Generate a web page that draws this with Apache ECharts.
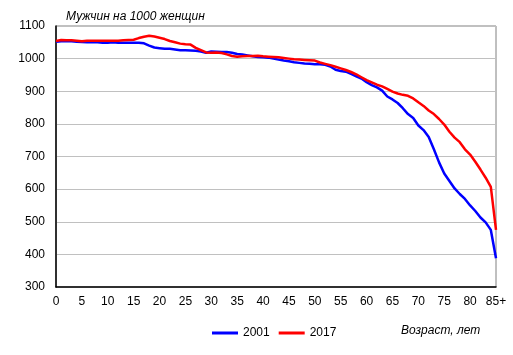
<!DOCTYPE html>
<html>
<head>
<meta charset="utf-8">
<script src="https://cdn.jsdelivr.net/npm/echarts@6/dist/echarts.min.js"></script>
<style>html,body{margin:0;padding:0;background:#fff}#c{width:513px;height:355px}</style>
</head>
<body>
<div id="c"></div>
<script>
const ages = Array.from({length: 86}, (_, i) => i === 85 ? '85+' : String(i));
const yTicks = [300, 1100, 100];
const s2001 = [1052,1053,1053,1053,1052,1051,1050,1050,1050,1049,1049,1050,1049,1049,1049,1049,1049,1047,1040,1034,
  1032,1030,1030,1028,1026,1026,1025,1024,1022,1018,1022,1021,1020,1020,1018,1014,1013,1010,1007,1005,
  1004,1003,1000,997,994,992,989,987,985,984,983,983,981,976,966,962,960,953,946,939,
  928,919,912,902,884,875,864,848,830,818,795,781,760,722,682,648,625,602,585,570,
  550,533,513,498,475,388];
const s2017 = [1054,1057,1056,1056,1055,1053,1055,1055,1055,1055,1055,1055,1055,1056,1057,1058,1063,1067,1070,1068,
  1064,1060,1054,1050,1046,1044,1043,1033,1026,1019,1018,1019,1017,1013,1008,1006,1007,1008,1008,1009,
  1007,1006,1005,1004,1002,1000,998,997,996,995,994,988,984,980,975,970,965,959,952,943,
  934,927,920,915,907,899,893,889,886,878,866,855,841,830,815,798,776,758,744,722,
  706,684,660,635,607,475];
const seriesNames = ['2001', '2017'];
const titleText = 'Мужчин на 1000 женщин';
const xName = 'Возраст, лет';

const font = '"Liberation Sans", Arial, sans-serif';
const chart = echarts.init(document.getElementById('c'), null, {renderer: 'canvas'});
chart.setOption({
  animation: false,
  backgroundColor: '#fff',
  title: {text: titleText, left: 61, top: 6, textStyle: {fontFamily: font, fontSize: 12, fontStyle: 'italic', fontWeight: 'normal', color: '#000'}},
  grid: {left: 56, top: 26, right: 17, bottom: 68, show: true, borderColor: '#808080', borderWidth: 1},
  legend: {
    data: seriesNames, left: 207, top: 322, itemWidth: 26, itemHeight: 3, itemGap: 9, icon: 'rect',
    textStyle: {fontFamily: font, fontSize: 12, color: '#000'}
  },
  graphic: [{type: 'text', left: 401, top: 325, style: {text: xName, font: 'italic 12px "Liberation Sans", Arial, sans-serif', fill: '#000'}}],
  xAxis: {
    type: 'category', data: ages, boundaryGap: false,
    axisLine: {lineStyle: {color: '#000', width: 1.5}},
    axisTick: {show: false},
    axisLabel: {interval: 4, margin: 9, fontFamily: font, fontSize: 12, color: '#000'},
    splitLine: {show: false}
  },
  yAxis: {
    type: 'value', min: yTicks[0], max: yTicks[1], interval: yTicks[2],
    axisLine: {show: true, lineStyle: {color: '#000', width: 1.5}},
    axisTick: {show: false},
    axisLabel: {margin: 11, fontFamily: font, fontSize: 12, color: '#000', formatter: v => String(v)},
    splitLine: {lineStyle: {color: '#c0c0c0', width: 1}}
  },
  series: [
    {name: seriesNames[0], type: 'line', data: s2001, showSymbol: false, symbol: 'none', lineStyle: {color: '#0000ff', width: 2.5}, itemStyle: {color: '#0000ff'}, z: 3},
    {name: seriesNames[1], type: 'line', data: s2017, showSymbol: false, symbol: 'none', lineStyle: {color: '#ff0000', width: 2.5}, itemStyle: {color: '#ff0000'}, z: 4}
  ]
});
</script>
</body>
</html>
